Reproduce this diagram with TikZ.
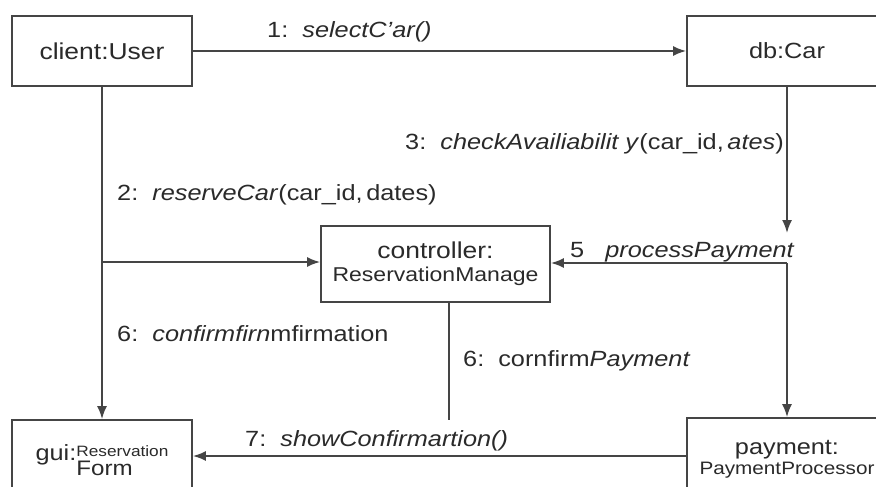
\documentclass[tikz,border=0pt]{standalone}
\usepackage{fontspec}
\setmainfont[FakeStretch=1.15]{Liberation Sans}
\usetikzlibrary{arrows.meta}
\definecolor{ink}{HTML}{454545}
\definecolor{txt}{HTML}{2A2A2A}
\newcommand\fs[1]{\fontsize{#1}{#1}\selectfont}

\begin{document}
\begin{tikzpicture}[x=1pt,y=-1pt,
  obj/.style={draw=ink, line width=1.8pt, rectangle, inner sep=0pt, text=txt, align=center},
  msg/.style={anchor=base west, inner sep=0pt, text=txt, font=\fs{22}},
  link/.style={draw=ink, line width=1.8pt},
  arr/.style={link, -{Latex[length=13pt,width=10pt]}}]
\useasboundingbox (0,0) rectangle (876,487);
\fill[white] (0,0) rectangle (876,487);
\clip (0,0) rectangle (876,487);

% objects
\node[obj, minimum width=180pt, minimum height=70pt, font=\fs{23}] (client) at (102,51) {client:User};
\node[obj, minimum width=200pt, minimum height=70pt, font=\fs{22}] (db) at (787,51) {db:Car};
\node[obj, minimum width=229pt, minimum height=76pt] (ctrl) at (435.5,264)
  {\begin{tabular}{@{}c@{}}{\fs{23}controller:}\\[5pt]{\fs{20}ReservationManage}\end{tabular}};
\node[obj, minimum width=180pt, minimum height=80pt] (gui) at (102,460)
  {{\fs{22}gui:}\raisebox{4pt}{\vtop{\hbox{\fs{15}Reservation}\baselineskip=19pt\hbox{\fs{21}Form}}}};
\node[obj, minimum width=200pt, minimum height=82pt] (pay) at (787,459)
  {\raisebox{10pt}{\begin{tabular}{@{}c@{}}{\fs{22}payment:}\\[4pt]{\fs{18}PaymentProcessor}\end{tabular}}};

% junctions and free ends
\coordinate (dbtip) at (787,233);
\coordinate (pj) at (787,263);
\coordinate (cend) at (449,420);

% connectors
\draw[arr] (client.east) -- (db.west);
\draw[arr] (client.south) -- (gui.north);
\draw[arr] (client.south |- 0,262) -- (ctrl.west |- 0,262);
\draw[arr] (db.south) -- (dbtip);
\draw[arr] (pj) -- (ctrl.east |- pj);
\draw[arr] (pj) -- (pay.north);
\draw[link] (cend |- ctrl.south) -- (cend);
\draw[arr] ([yshift=3pt]pay.west) -- ([yshift=4pt]gui.east);

% messages
\node[msg] (m1) at (267,38) {1:\ \ \textit{selectC'ar()}};
\node[msg] (m2) at (117,200) {2:\ \ \textit{reserveCar}(car\_id,\,dates)};
\node[msg] (m3) at (405,149) {3:\ \ \textit{checkAvailiabilit y}(car\_id,\,\textit{ates})};
\node[msg] (m5) at (570,257) {5\ \ \ \textit{processPayment}};
\node[msg] (m6a) at (117,341) {6:\ \ \textit{confirmfirn}mfirmation};
\node[msg] (m6b) at (463,366) {6:\ \ cornfirm\textit{Payment}};
\node[msg] (m7) at (245,446) {7:\ \ \textit{showConfirmartion()}};
\end{tikzpicture}
\end{document}
